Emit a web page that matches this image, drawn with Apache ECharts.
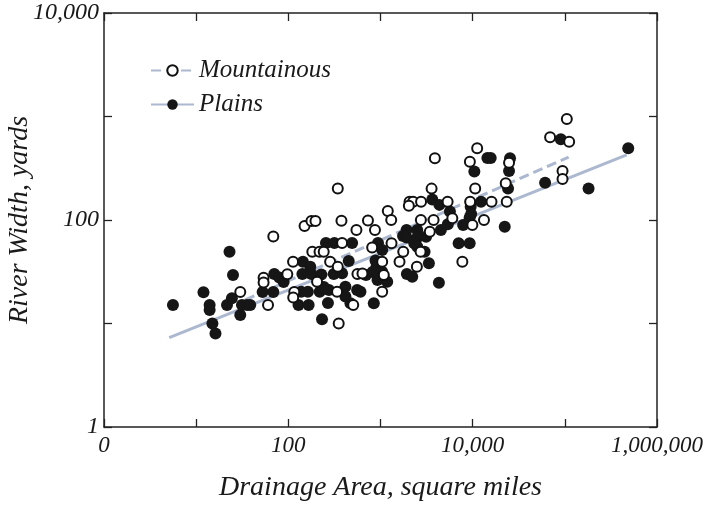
<!DOCTYPE html>
<html><head><meta charset="utf-8">
<script src="https://cdn.jsdelivr.net/npm/echarts@6/dist/echarts.min.js"></script>
<style>html,body{margin:0;padding:0;background:#fff}#c{width:710px;height:505px}</style>
</head><body><div id="c"></div>
<script>
// Drainage area (square miles) and river width (yards)
const plainsArea = [5.6,12,14,14,15,16.2,21.6,24.4,23,25.1,30.1,31.4,35.6,38.6,52.6,68.7,70.4,79.9,88.9,129,166,138,163,219,144,173,142,178,228,311,383,256,316,492,269,416,416,472,558,606,452,883,905,819,696,846,232,939,1043,928,1183,1043,1756,1917,2506,1917,2506,3123,2324,2506,3008,1932,2211,3350,4302,3648,4357,5666,4522,5375,7883,7043,9278,9513,9633,9278,12310,10430,14450,15690,25430,24810,24190,22280,61090,90490,180900,487500,243,276];
const plainsWidth = [15.1,20,15.1,13.5,10,8,15.1,17.5,49.4,29.4,12.1,15.1,15.1,15.1,20.2,20.2,30.1,27.8,25.2,15.1,15.1,20.3,20.3,20.3,39.5,35.4,30.1,30.1,29.7,30.1,30.5,59.9,59.9,59.9,15.8,22.7,18.2,15.7,21.1,20.3,40.2,40.6,35.4,31.5,29.4,15.7,11,59.9,51.3,26.3,25.3,31.7,70,80.1,80.1,67.7,67.7,69,59.5,55.2,49.4,30.1,28.3,38.2,24.8,158,140,121,80.1,91.1,89.4,59.5,59.5,134,114,106,150,294,397,397,395,297,202,86.1,229,602,202,493,22.5,21.1];
const mountArea = [30.1,53.9,53.9,60.2,97.5,112.5,116,113,68.7,150,178,197,344,377,182,218,242,284,344,205,338,506,352,548,871,731,383,562,637,812,1200,1307,1043,1086,1043,1317,1609,1765,2066,2256,2755,2031,2742,3768,3426,2722,2481,3892,3584,5349,6017,7727,9325,11190,10650,9393,9925,13270,16010,22840,23420,24810,69220,105100,111400,94410,94410];
const mountWidth = [20.2,27.7,24.9,15.1,29.9,39.5,20.2,17.8,69.3,87.5,97.8,97.8,202,98.4,49.4,49.4,49.4,39.5,35.4,25.3,20.3,15.1,10,80.1,80.1,98.9,59.9,30.1,30.4,54.2,122,100,39.5,29.4,20.3,59.5,39.5,49.4,150,150,150,137,100,100,77.1,49.4,35.4,395,201,150,104,39.5,366,493,202,150,89.4,100,150,226,150,358,630,946,571,297,249];
// fitted trend lines: [start, end]
const plainsFitArea = [5.1, 469000];
const plainsFitWidth = [7.3, 425];
const mountFitArea = [34, 110000];
const mountFitWidth = [16.9, 406];
// tick labels
const xTickLabels = {1:'0', 100:'100', 10000:'10,000', 1000000:'1,000,000'};
const yTickLabels = {1:'1', 100:'100', 10000:'10,000'};
const seriesNames = ['Mountainous','Plains'];

const FONT = '"Liberation Serif", serif';
const lineCol = '#abb8cf';
const zip = (a,b)=>a.map((v,i)=>[v,b[i]]);
const lbl = map => v => { const k = Math.round(v); return map[k] !== undefined ? map[k] : ''; };

const axisCommon = {
  type:'log', logBase:10,
  axisLine:{lineStyle:{color:'#222', width:1.5}},
  axisTick:{inside:true, length:8, lineStyle:{color:'#222', width:1.3}},
  splitLine:{show:false}
};
const chart = echarts.init(document.getElementById('c'), null, {renderer:'canvas'});
chart.setOption({
  animation:false,
  grid:{left:104, right:53, top:13, bottom:78, containLabel:false, outerBoundsMode:'none'},
  legend:{
    data:seriesNames, orient:'vertical', left:150, top:58, padding:0,
    itemWidth:43, itemHeight:13, itemGap:9,
    textStyle:{fontFamily:FONT, fontStyle:'italic', fontSize:25, color:'#1a1a1a', lineHeight:22}
  },
  xAxis:[
    Object.assign({}, axisCommon, {min:1, max:1000000, position:'bottom',
      name:'Drainage Area, square miles', nameLocation:'middle', nameGap:47, nameMoveOverlap:false,
      nameTextStyle:{fontFamily:FONT, fontStyle:'italic', fontSize:28, color:'#1a1a1a'},
      axisLabel:{formatter:lbl(xTickLabels), margin:7, fontFamily:FONT, fontStyle:'italic', fontSize:23, color:'#1a1a1a', showMinLabel:true, showMaxLabel:true}}),
    Object.assign({}, axisCommon, {min:1, max:1000000, position:'top', axisLabel:{show:false}})
  ],
  yAxis:[
    Object.assign({}, axisCommon, {min:1, max:10000, position:'left',
      name:'River Width, yards', nameLocation:'middle', nameGap:70, nameMoveOverlap:false,
      nameTextStyle:{fontFamily:FONT, fontStyle:'italic', fontSize:28, color:'#1a1a1a'},
      axisLabel:{formatter:lbl(yTickLabels), margin:5, fontFamily:FONT, fontStyle:'italic', fontSize:24, color:'#1a1a1a', showMinLabel:true, showMaxLabel:true}}),
    Object.assign({}, axisCommon, {min:1, max:10000, position:'right', axisLabel:{show:false}})
  ],
  series:[
    {name:seriesNames[0], type:'line', z:1, data:zip(mountFitArea, mountFitWidth),
     symbol:'circle', symbolSize:10, showSymbol:false,
     lineStyle:{color:lineCol, width:3, type:[10,5]},
     itemStyle:{color:'#fff', borderColor:'#111', borderWidth:2}},
    {name:seriesNames[1], type:'line', z:1, data:zip(plainsFitArea, plainsFitWidth),
     symbol:'circle', symbolSize:10, showSymbol:false,
     lineStyle:{color:lineCol, width:3},
     itemStyle:{color:'#161616', borderColor:'#161616', borderWidth:0}},
    {name:'Plains pts', type:'scatter', z:3, data:zip(plainsArea, plainsWidth),
     symbol:'circle', symbolSize:12, itemStyle:{color:'#161616', opacity:1}},
    {name:'Mountainous pts', type:'scatter', z:4, data:zip(mountArea, mountWidth),
     symbol:'circle', symbolSize:10, itemStyle:{color:'#fff', borderColor:'#111', borderWidth:2, opacity:1}}
  ]
});
</script></body></html>
